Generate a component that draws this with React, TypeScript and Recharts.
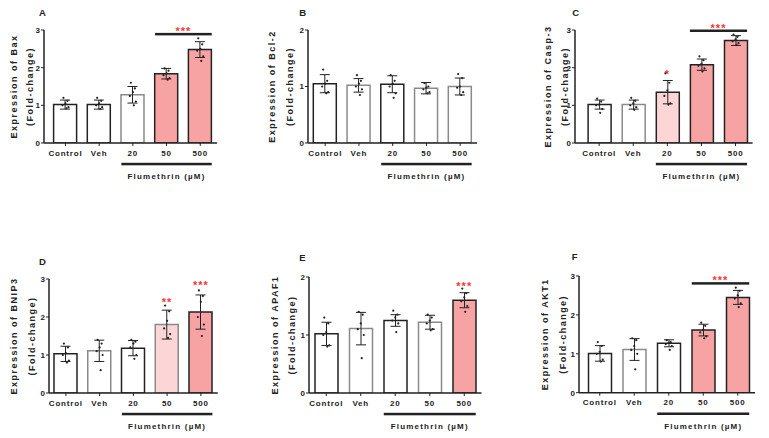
import {
  Bar,
  Cell,
  ComposedChart,
  ErrorBar,
  Line,
  ReferenceArea,
  ReferenceDot,
  XAxis,
  YAxis,
} from 'recharts';

const groups = ['Control', 'Veh', '20', '50', '500'];

// A: Bax
const meanA = [1.02, 1.02, 1.28, 1.84, 2.48];
const sdA = [0.12, 0.12, 0.22, 0.14, 0.21];
const ptsA = [
  [1.2, 1.12, 1.05, 1.0, 0.95, 0.92],
  [1.2, 1.12, 1.05, 1.0, 0.95, 0.9],
  [1.6, 1.45, 1.35, 1.25, 1.1, 1.0],
  [1.98, 1.92, 1.85, 1.8, 1.72, 1.68],
  [2.78, 2.62, 2.5, 2.45, 2.3, 2.18],
];

// B: Bcl-2
const meanB = [1.05, 1.02, 1.04, 0.97, 1.0];
const sdB = [0.16, 0.12, 0.15, 0.1, 0.15];
const ptsB = [
  [1.3, 1.1, 1.05, 1.0, 0.9, 0.88],
  [1.2, 1.1, 1.05, 1.0, 0.95, 0.85],
  [1.2, 1.1, 1.05, 1.0, 0.88, 0.8],
  [1.06, 1.0, 0.98, 0.95, 0.9, 0.88],
  [1.22, 1.15, 1.0, 0.98, 0.9, 0.85],
];

// C: Casp-3
const meanC = [1.02, 1.02, 1.35, 2.08, 2.72];
const sdC = [0.12, 0.12, 0.31, 0.15, 0.13];
const ptsC = [
  [1.18, 1.1, 1.02, 1.0, 0.9, 0.8],
  [1.2, 1.12, 1.05, 1.0, 0.95, 0.88],
  [1.85, 1.6, 1.4, 1.25, 1.05, 1.02],
  [2.3, 2.2, 2.1, 2.05, 1.98, 1.9],
  [2.88, 2.82, 2.75, 2.7, 2.65, 2.6],
];

// D: BNIP3
const meanD = [1.03, 1.11, 1.18, 1.8, 2.13];
const sdD = [0.2, 0.28, 0.2, 0.38, 0.45];
const ptsD = [
  [1.3, 1.2, 1.05, 1.0, 0.85, 0.8],
  [1.4, 1.3, 1.2, 1.1, 1.0, 0.6],
  [1.4, 1.35, 1.3, 1.2, 1.0, 0.9],
  [2.3, 2.15, 1.9, 1.7, 1.55, 1.45],
  [2.7, 2.55, 2.4, 2.0, 1.8, 1.5],
];

// E: APAF1
const meanE = [1.02, 1.11, 1.25, 1.22, 1.6];
const sdE = [0.2, 0.28, 0.1, 0.12, 0.13];
const ptsE = [
  [1.3, 1.2, 1.05, 1.0, 0.82, 0.8],
  [1.4, 1.35, 1.2, 1.1, 1.0, 0.6],
  [1.42, 1.35, 1.3, 1.25, 1.2, 1.05],
  [1.35, 1.3, 1.25, 1.2, 1.1, 1.08],
  [1.8, 1.72, 1.65, 1.58, 1.5, 1.4],
];

// F: AKT1
const meanF = [1.01, 1.11, 1.27, 1.61, 2.45];
const sdF = [0.2, 0.28, 0.09, 0.15, 0.18];
const ptsF = [
  [1.3, 1.2, 1.05, 1.0, 0.85, 0.8],
  [1.4, 1.35, 1.2, 1.1, 1.0, 0.6],
  [1.35, 1.3, 1.28, 1.25, 1.2, 1.1],
  [1.8, 1.72, 1.62, 1.55, 1.45, 1.4],
  [2.7, 2.62, 2.5, 2.42, 2.3, 2.2],
];

const RED = '#f7a3a3';
const PINK = '#fcd6d6';
const STAR = '#ff3333';
const INK = '#222';
const GREY = '#8a8a8a';
const FONT = "Arial, 'Liberation Sans', sans-serif";
const BAR = 23;
const jitter = [-2, 2, 0, -3, 3, 1];

const build = (mean: number[], sd: number[], pts: number[][]) =>
  groups.map((name, i) => {
    const row: Record<string, any> = { name, mean: mean[i], sd: sd[i] };
    pts[i].forEach((v, j) => (row[`p${j}`] = v));
    return row;
  });

interface PanelProps {
  letter: string;
  gene: string;
  data: any[];
  max: number;
  fills: string[];
  strokes: string[];
  axisX: number;
  topY: number;
  zeroY: number;
  padLeft: number;
  spacing: number;
  titleDx: number;
  titleDy: number;
  labelDx: [number, number];
  bracket?: number; // y-value of the 50..500 significance bar
  stars?: { x: string; y: number; text: string }[];
}

function YLabel({ viewBox, gene, dx }: any) {
  const { x, y, width, height } = viewBox;
  const ax = x + width;
  const cy = y + height / 2;
  const lines = [`Expression of ${gene}`, '(Fold-change)'];
  return (
    <g>
      {lines.map((t, i) => (
        <text
          key={i}
          x={ax + dx[i]}
          y={cy}
          transform={`rotate(-90 ${ax + dx[i]} ${cy})`}
          textAnchor="middle"
          dominantBaseline="central"
          fontFamily={FONT}
          fontWeight="bold"
          fontSize={9}
          letterSpacing={1.5}
          fill={INK}
        >
          {t}
        </text>
      ))}
    </g>
  );
}

function DoseLabel({ viewBox, padLeft }: any) {
  const { x, y, width } = viewBox;
  const band = (width - padLeft) / groups.length;
  const gap = (band - BAR) / 2;
  const x1 = x + padLeft + 2 * band + gap;
  const x2 = x + padLeft + 5 * band - gap;
  return (
    <g>
      <rect x={x1} y={y + 19.8} width={x2 - x1} height={2.5} fill={INK} />
      <text
        x={(x1 + x2) / 2}
        y={y + 36}
        textAnchor="middle"
        fontFamily={FONT}
        fontWeight="bold"
        fontSize={8}
        letterSpacing={1.2}
        fill={INK}
      >
        Flumethrin (µM)
      </text>
    </g>
  );
}

function Stars({ cx, cy, text }: { cx: number; cy: number; text: string }) {
  return (
    <text
      x={cx}
      y={cy + 6.3}
      textAnchor="middle"
      fontFamily={FONT}
      fontWeight="bold"
      fontSize={11}
      letterSpacing={1}
      fill={STAR}
    >
      {text}
    </text>
  );
}

function Panel(p: PanelProps) {
  const plotW = p.padLeft + p.spacing * groups.length;
  const plotH = p.zeroY - p.topY;
  const width = 44 + plotW + 8;
  const height = 30 + plotH + 20 + 30;
  const ticks = Array.from({ length: p.max + 1 }, (_, i) => i);
  return (
    <>
      <div
        style={{
          position: 'absolute',
          left: p.axisX + p.titleDx,
          top: p.topY + p.titleDy - 6,
          fontFamily: FONT,
          fontWeight: 'bold',
          fontSize: 9.5,
          lineHeight: '12px',
          color: INK,
        }}
      >
        {p.letter}
      </div>
      <div style={{ position: 'absolute', left: p.axisX - 44, top: p.topY - 30 }}>
        <ComposedChart
          width={width}
          height={height}
          data={p.data}
          margin={{ top: 30, right: 8, left: 0, bottom: 30 }}
        >
          <XAxis
            dataKey="name"
            interval={0}
            height={20}
            padding={{ left: p.padLeft, right: 0 }}
            tickSize={3}
            tickMargin={4}
            axisLine={{ stroke: INK, strokeWidth: 1.5 }}
            tickLine={{ stroke: INK }}
            tick={{ fontSize: 8, fontWeight: 'bold', fontFamily: FONT, fill: INK, letterSpacing: 0.8 }}
            label={<DoseLabel padLeft={p.padLeft} />}
          />
          <YAxis
            width={44}
            domain={[0, p.max]}
            ticks={ticks}
            allowDataOverflow
            tickSize={3}
            tickMargin={1}
            axisLine={{ stroke: INK, strokeWidth: 1.5 }}
            tickLine={{ stroke: INK }}
            tick={{ fontSize: 8, fontWeight: 'bold', fontFamily: FONT, fill: INK }}
            label={<YLabel gene={p.gene} dx={p.labelDx} />}
          />
          <Bar dataKey="mean" barSize={BAR} strokeWidth={1.5} isAnimationActive={false}>
            {p.data.map((_, i) => (
              <Cell key={i} fill={p.fills[i]} stroke={p.strokes[i]} />
            ))}
            <ErrorBar dataKey="sd" width={5} stroke={INK} strokeWidth={1} direction="y" />
          </Bar>
          {jitter.map((jx, j) => (
            <Line
              key={j}
              dataKey={`p${j}`}
              stroke="none"
              activeDot={false}
              legendType="none"
              isAnimationActive={false}
              dot={(d: any) => (
                <circle key={`d${j}-${d.index}`} cx={d.cx + jx} cy={d.cy} r={1.1} fill={INK} />
              )}
            />
          ))}
          {p.bracket !== undefined && (
            <ReferenceArea
              x1="50"
              x2="500"
              y1={p.bracket - 0.01}
              y2={p.bracket + 0.01}
              ifOverflow="visible"
              shape={(s: any) => {
                const gap = (s.width / 2 - BAR) / 2;
                return (
                  <rect
                    x={s.x + gap}
                    y={s.y + s.height / 2 - 1.25}
                    width={s.width - 2 * gap}
                    height={2.5}
                    fill={INK}
                  />
                );
              }}
              label={(l: any) => (
                <Stars
                  cx={l.viewBox.x + l.viewBox.width / 2}
                  cy={l.viewBox.y + l.viewBox.height / 2 - 5.5}
                  text="***"
                />
              )}
            />
          )}
          {(p.stars || []).map((s) => (
            <ReferenceDot
              key={s.x}
              x={s.x}
              y={s.y}
              r={0}
              fill="none"
              stroke="none"
              ifOverflow="visible"
              label={(l: any) => (
                <Stars
                  cx={l.viewBox.x + (l.viewBox.width || 0) / 2}
                  cy={l.viewBox.y + (l.viewBox.height || 0) / 2}
                  text={s.text}
                />
              )}
            />
          ))}
        </ComposedChart>
      </div>
    </>
  );
}

export default function App() {
  return (
    <div
      style={{
        position: 'absolute',
        left: 0,
        top: 0,
        width: 769,
        height: 438,
        background: '#fff',
        overflow: 'hidden',
      }}
    >
      <Panel
        letter="A"
        gene="Bax"
        data={build(meanA, sdA, ptsA)}
        max={3}
        fills={['#fff', '#fff', '#fff', RED, RED]}
        strokes={[INK, INK, GREY, INK, INK]}
        axisX={44}
        topY={30}
        zeroY={143}
        padLeft={4.6}
        spacing={33.7}
        titleDx={-5}
        titleDy={-17}
        labelDx={[-30, -14]}
        bracket={2.89}
      />
      <Panel
        letter="B"
        gene="Bcl-2"
        data={build(meanB, sdB, ptsB)}
        max={2}
        fills={['#fff', '#fff', '#fff', '#fff', '#fff']}
        strokes={[INK, GREY, INK, GREY, GREY]}
        axisX={308.3}
        topY={30}
        zeroY={143}
        padLeft={0.3}
        spacing={33.75}
        titleDx={-9}
        titleDy={-17}
        labelDx={[-36, -18]}
      />
      <Panel
        letter="C"
        gene="Casp-3"
        data={build(meanC, sdC, ptsC)}
        max={3}
        fills={['#fff', '#fff', PINK, RED, RED]}
        strokes={[INK, GREY, INK, INK, INK]}
        axisX={575.3}
        topY={30}
        zeroY={143}
        padLeft={7.1}
        spacing={34.1}
        titleDx={-3}
        titleDy={-17}
        labelDx={[-27, -10]}
        bracket={2.98}
        stars={[{ x: '20', y: 1.89, text: '*' }]}
      />
      <Panel
        letter="D"
        gene="BNIP3"
        data={build(meanD, sdD, ptsD)}
        max={3}
        fills={['#fff', '#fff', '#fff', PINK, RED]}
        strokes={[INK, GREY, INK, GREY, INK]}
        axisX={49}
        topY={279}
        zeroY={393}
        padLeft={0}
        spacing={33.75}
        titleDx={-10}
        titleDy={-17}
        labelDx={[-35, -17]}
        stars={[
          { x: '50', y: 2.45, text: '**' },
          { x: '500', y: 2.9, text: '***' },
        ]}
      />
      <Panel
        letter="E"
        gene="APAF1"
        data={build(meanE, sdE, ptsE)}
        max={2}
        fills={['#fff', '#fff', '#fff', '#fff', RED]}
        strokes={[INK, GREY, INK, GREY, INK]}
        axisX={309.3}
        topY={276.7}
        zeroY={392.7}
        padLeft={0}
        spacing={34.5}
        titleDx={-10}
        titleDy={-19}
        labelDx={[-34, -17]}
        stars={[{ x: '500', y: 1.89, text: '***' }]}
      />
      <Panel
        letter="F"
        gene="AKT1"
        data={build(meanF, sdF, ptsF)}
        max={3}
        fills={['#fff', '#fff', '#fff', RED, RED]}
        strokes={[INK, GREY, INK, INK, INK]}
        axisX={578.7}
        topY={276}
        zeroY={392.7}
        padLeft={3.5}
        spacing={34.5}
        titleDx={-7}
        titleDy={-19}
        labelDx={[-34, -16]}
        bracket={2.81}
      />
    </div>
  );
}
